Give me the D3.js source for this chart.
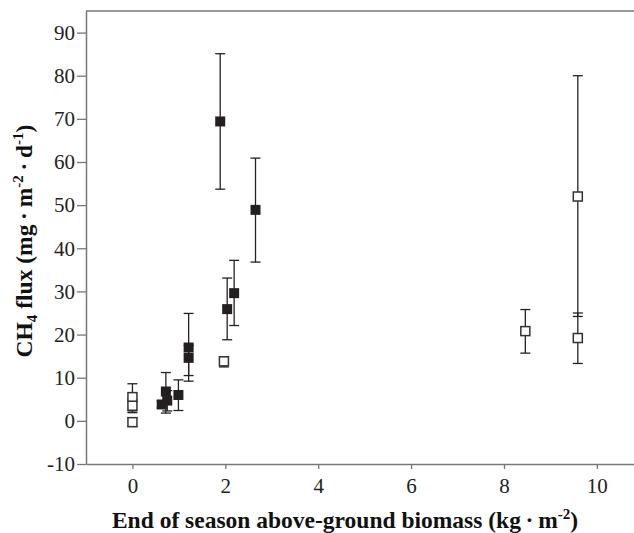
<!DOCTYPE html>
<html lang="en">
<head>
    <meta charset="UTF-8">
    <title>CH4 flux vs biomass</title>
    <script src="https://d3js.org/d3.v7.min.js"></script>
    <style>
        body { margin: 0; background: #fff; }
        .label { font-family: "Liberation Serif", serif; font-size: 23.5px; font-weight: bold; fill: #111; }
        .axis text { font-family: "Liberation Serif", "DejaVu Serif", serif !important; font-size: 21px; }
    </style>
</head>
<body>
    <div id="plot"></div>
    <script>
        // Filled squares
        const filledX  = [0.63, 0.72, 0.75, 0.99, 1.21, 1.21, 1.89, 2.04, 2.19, 2.65];
        const filledY  = [3.8, 6.8, 4.7, 6.0, 17.0, 14.6, 69.4, 25.9, 29.6, 48.9];
        const filledLo = [3.0, 1.8, 2.3, 2.4, 10.5, 9.2, 53.7, 18.8, 22.1, 36.8];
        const filledHi = [4.6, 11.2, 7.0, 9.5, 24.9, 17.5, 85.1, 33.1, 37.2, 60.9];

        // Open squares
        const openX  = [0, 0, 0, 1.97, 8.46, 9.59, 9.59];
        const openY  = [5.5, 3.5, -0.3, 13.8, 20.8, 19.2, 52.0];
        const openLo = [2.3, 1.9, -1.3, 12.5, 15.7, 13.3, 24.2];
        const openHi = [8.6, 5.0, 0.7, 14.8, 25.8, 25.0, 80.0];

        const xTicks = [0, 2, 4, 6, 8, 10];
        const yTicks = [-10, 0, 10, 20, 30, 40, 50, 60, 70, 80, 90];

        const filled = filledX.map((x, i) => ({x, y: filledY[i], lo: filledLo[i], hi: filledHi[i], open: false}));
        const open = openX.map((x, i) => ({x, y: openY[i], lo: openLo[i], hi: openHi[i], open: true}));
        const points = filled.concat(open);

        const margin = {top: 11, right: 0, bottom: 69, left: 86};
        const width = 634 - margin.left - margin.right;
        const height = 533 - margin.top - margin.bottom;

        const svg = d3.select("#plot")
            .append("svg")
                .attr("width", 634)
                .attr("height", 533)
            .append("g")
                .attr("transform", `translate(${margin.left},${margin.top})`);

        const x = d3.scaleLinear().domain([-1, 10.8]).range([0, width]);
        const y = d3.scaleLinear().domain([-10, 95]).range([height, 0]);

        const axisColor = "#777";

        // top frame line
        svg.append("line")
            .attr("x1", 0).attr("x2", width)
            .attr("y1", 0).attr("y2", 0)
            .style("stroke", axisColor)
            .style("stroke-width", 1.5);

        const gX = svg.append("g")
            .attr("class", "axis")
            .attr("transform", `translate(0,${height})`)
            .call(d3.axisBottom(x).tickValues(xTicks).tickFormat(d => String(d))
                .tickSize(5).tickPadding(9).tickSizeOuter(0));

        const gY = svg.append("g")
            .attr("class", "axis")
            .call(d3.axisLeft(y).tickValues(yTicks).tickFormat(d => String(d))
                .tickSize(9).tickPadding(2).tickSizeOuter(0));

        [gX, gY].forEach(g => {
            g.attr("font-family", null).attr("font-size", null);
            g.selectAll(".domain").style("stroke", axisColor).style("stroke-width", 1.5);
            g.selectAll(".tick line").style("stroke", axisColor).style("stroke-width", 1.3);
            g.selectAll(".tick text").style("fill", "#222");
        });

        // error bars
        const cap = 5;
        const err = svg.append("g")
            .selectAll("g")
            .data(points)
            .join("g")
                .style("stroke", "#222")
                .style("stroke-width", 1.3);

        err.append("line")
            .attr("x1", d => x(d.x)).attr("x2", d => x(d.x))
            .attr("y1", d => y(d.lo)).attr("y2", d => y(d.hi));
        err.append("line")
            .attr("x1", d => x(d.x) - cap).attr("x2", d => x(d.x) + cap)
            .attr("y1", d => y(d.hi)).attr("y2", d => y(d.hi));
        err.append("line")
            .attr("x1", d => x(d.x) - cap).attr("x2", d => x(d.x) + cap)
            .attr("y1", d => y(d.lo)).attr("y2", d => y(d.lo));

        // squares
        svg.append("g")
            .selectAll("rect")
            .data(points)
            .join("rect")
                .attr("x", d => x(d.x) - (d.open ? 4.5 : 5))
                .attr("y", d => y(d.y) - (d.open ? 4.5 : 5))
                .attr("width", d => d.open ? 9 : 10)
                .attr("height", d => d.open ? 9 : 10)
                .style("fill", d => d.open ? "#fff" : "#231f20")
                .style("stroke", d => d.open ? "#333" : "none")
                .style("stroke-width", 1.5);

        // axis labels
        const dot = "\u2009\u00b7\u2009";
        svg.append("text")
            .attr("class", "label")
            .attr("x", 259)
            .attr("y", height + 64)
            .style("text-anchor", "middle")
            .html(`End of season above-ground biomass (kg${dot}m<tspan dy="-9" font-size="15">-2</tspan><tspan dy="9">)</tspan>`);

        svg.append("text")
            .attr("class", "label")
            .attr("transform", "rotate(-90)")
            .attr("x", -230)
            .attr("y", -54)
            .style("text-anchor", "middle")
            .html(`CH<tspan dy="5" font-size="15">4</tspan><tspan dy="-5"> flux (mg${dot}m</tspan><tspan dy="-9" font-size="15">-2</tspan><tspan dy="9">${dot}d</tspan><tspan dy="-9" font-size="15">-1</tspan><tspan dy="9">)</tspan>`);
    </script>
</body>
</html>
